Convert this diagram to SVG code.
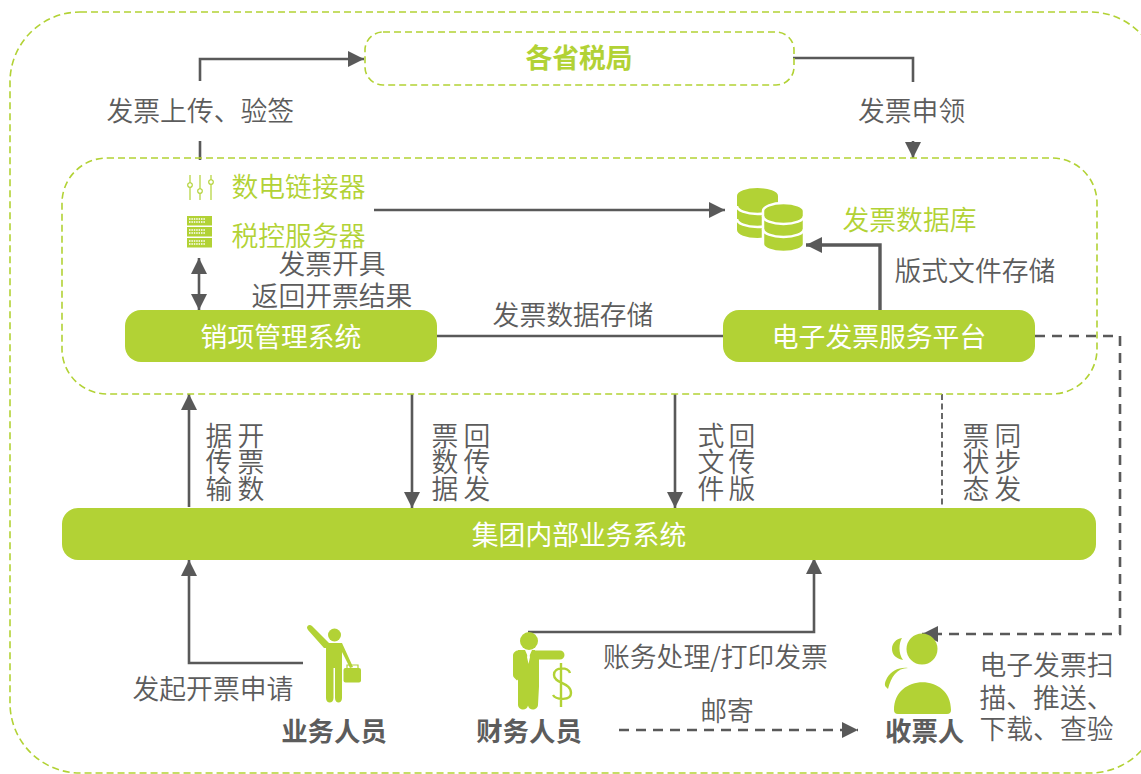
<svg xmlns="http://www.w3.org/2000/svg" width="1141" height="774" viewBox="0 0 1141 774">
<style>
text{font-family:"Noto Sans CJK SC","Noto Sans",sans-serif;font-size:26.8px;fill:#5c5c5c;font-weight:350}
.g{fill:#B2D235}
.w{fill:#fff;font-weight:400}
.gb{fill:#B2D235;font-weight:700}
.b{font-weight:700;font-size:26.4px}
.v{writing-mode:vertical-rl}
.c{text-anchor:middle}
.box{fill:none;stroke:#B2D235;stroke-width:1.6;stroke-dasharray:7 4}
.ln{fill:none;stroke:#595959;stroke-width:2.6}
.dash{stroke-dasharray:10 7}
.ic{fill:#B2D235}
.icl{fill:none;stroke:#B2D235;stroke-width:1.2}
.sep{fill:none;stroke:#fff;stroke-width:2.6}
</style>
<defs>
<marker id="a" markerUnits="userSpaceOnUse" markerWidth="18" markerHeight="16" refX="16" refY="8" orient="auto-start-reverse"><path d="M0 0L16 8L0 16Z" fill="#595959"/></marker>
</defs>
<rect class="box" x="10" y="12" width="1150" height="761" rx="70"/>
<g id="connectors">
<path class="ln" d="M200 81V59H364" marker-end="url(#a)"/>
<path class="ln" d="M200 141V160"/>
<path class="ln" d="M793 58H913V82"/>
<path class="ln" d="M913 141V158" marker-end="url(#a)"/>
<path class="ln" d="M374 210H725" marker-end="url(#a)"/>
<path class="ln" d="M199 258V310" marker-start="url(#a)" marker-end="url(#a)"/>
<path class="ln" d="M437 336H723"/>
<path class="ln" style="stroke-width:3.4" d="M880 310V245H806" marker-end="url(#a)"/>
<path class="ln" d="M189 507V394" marker-end="url(#a)"/>
<path class="ln" d="M412 394V508" marker-end="url(#a)"/>
<path class="ln" d="M675 394V508" marker-end="url(#a)"/>
<path class="ln" style="stroke-width:1.8;stroke-dasharray:6 3.500" d="M942 394V508"/>
<path class="ln dash" d="M1035 336H1120V634H922" marker-end="url(#a)"/>
<path class="ln" d="M303 663H189V560" marker-end="url(#a)"/>
<path class="ln" d="M528 632H814V558" marker-end="url(#a)"/>
<path class="ln dash" d="M619 730H858" marker-end="url(#a)"/>
</g>
<g id="tax-bureau"><rect class="box" x="365" y="32" width="429" height="53" rx="18"/><text class="gb c" x="579" y="68">各省税局</text></g>
<g id="inner-area"><rect class="box" x="62" y="158" width="1035" height="236" rx="45"/></g>
<g id="connector-device">
<path class="icl" d="M190 175V200M200 175V200M211 175V200"/>
<circle cx="190" cy="185" r="2.3" fill="#fff" stroke="#B2D235" stroke-width="1.1"/>
<circle cx="200" cy="191" r="2.3" fill="#fff" stroke="#B2D235" stroke-width="1.1"/>
<circle cx="211" cy="182" r="2.3" fill="#fff" stroke="#B2D235" stroke-width="1.1"/>
<text class="g" x="231.500" y="196.500">数电链接器</text>
</g>
<g id="tax-server">
<path class="ic" d="M187 216h25v9.500h-25zM187 227h25v9.500h-25zM187 238h25v9.500h-25z"/>
<path d="M189 219h16M189 222h16M189 230h16M189 233h16M189 241h16M189 244h16" stroke="#fff" stroke-width="1.6" stroke-dasharray="1.5 .9"/>
<text class="g" x="231.500" y="245.500">税控服务器</text>
</g>
<g id="database">
<path class="ic" d="M737 196a20.500 8 0 0 1 41 0V230a20.500 8 0 0 1-41 0Z"/>
<path class="sep" d="M737 206a20.500 8 0 0 0 41 0M737 219a20.500 8 0 0 0 41 0"/>
<path class="ic" style="stroke:#fff;stroke-width:2.5" d="M763 211a20.500 8 0 0 1 41 0V244a20.500 8 0 0 1-41 0Z"/>
<path class="sep" d="M763 216a20.500 8 0 0 0 41 0M763 229a20.500 8 0 0 0 41 0"/>
<text class="g" x="842.500" y="230">发票数据库</text>
</g>
<g id="sales-system"><rect class="ic" x="125" y="310" width="312" height="52" rx="16"/><text class="w c" x="281" y="347">销项管理系统</text></g>
<g id="e-invoice-platform"><rect class="ic" x="723" y="310" width="312" height="52" rx="16"/><text class="w c" x="879" y="347">电子发票服务平台</text></g>
<g id="group-system"><rect class="ic" x="62" y="508" width="1034" height="52" rx="16"/><text class="w c" x="579" y="545">集团内部业务系统</text></g>
<g id="business-staff">
<circle class="ic" cx="334.500" cy="635" r="6.500"/>
<path class="ic" d="M307 628c0-3 3-4 5-2l17 17h13l11 24l-3 1l-8-16v46c0 6-7 6-7 0v-30h-1.500v30c0 6-7.500 6-7.500 0v-50l-2 0l-16-18z"/>
<rect class="ic" x="343.500" y="668" width="17.500" height="14.500" rx="2"/>
<path class="icl" d="M347 668v-3h11v3"/>
<text class="b c" x="334" y="741">业务人员</text>
</g>
<g id="finance-staff">
<circle class="ic" cx="529" cy="641" r="9"/>
<path class="ic" d="M518 650h7l3.500 8l3.500-8h3v.500h25a4.500 4.500 0 0 1 0 9h-21v27l-1 18c0 6-9 7-10 1c-1 6-10 5-10-1v-25l-1 1l-3-3c-1-1-1-2-1-4v-18c0-3 3-5 5-5z"/>
<path d="M528.500 652l-1.500 5l1.500 7l1.500-7z" fill="#fff"/>
<path class="icl" style="stroke-width:2.4" d="M570 673c-1-6-16-7-16 2c0 9 17 7 17 18c0 8-15 7-18 2M561 663v44"/>
<text class="b c" x="529" y="741">财务人员</text>
</g>
<g id="receiver">
<circle class="ic" cx="922" cy="649" r="15.500"/>
<path class="ic" d="M894 710c0-37 57-37 57 0q0 4-4 4h-49q-4 0-4-4zM902 638c-3 5-4 15 1 22c-8-2-11-6-11-11c0-6 4-10 10-11zM908 668c-11 0-17 9-20 21l-2-2c-2-2-1-5 1-9c4-7 12-11 21-10z"/>
<text class="b" x="885" y="741">收票人</text>
</g>
<g id="labels">
<text x="106.500" y="121">发票上传、验签</text>
<text x="858" y="121">发票申领</text>
<text class="c" x="332" y="274">发票开具</text>
<text class="c" x="332" y="306">返回开票结果</text>
<text class="c" x="573" y="325">发票数据存储</text>
<text x="894.500" y="281">版式文件存储</text>
<text class="v" x="251" y="422">开票数</text>
<text class="v" x="219" y="422">据传输</text>
<text class="v" x="477" y="422">回传发</text>
<text class="v" x="445" y="422">票数据</text>
<text class="v" x="742" y="422">回传版</text>
<text class="v" x="711" y="422">式文件</text>
<text class="v" x="1008" y="422">同步发</text>
<text class="v" x="976" y="422">票状态</text>
<text x="132.500" y="699">发起开票申请</text>
<text x="603" y="667">账务处理/打印发票</text>
<text class="c" x="727" y="721">邮寄</text>
<text x="979.500" y="675">电子发票扫</text>
<text x="979.500" y="708">描、推送、</text>
<text x="979.500" y="739">下载、查验</text>
</g>
</svg>
